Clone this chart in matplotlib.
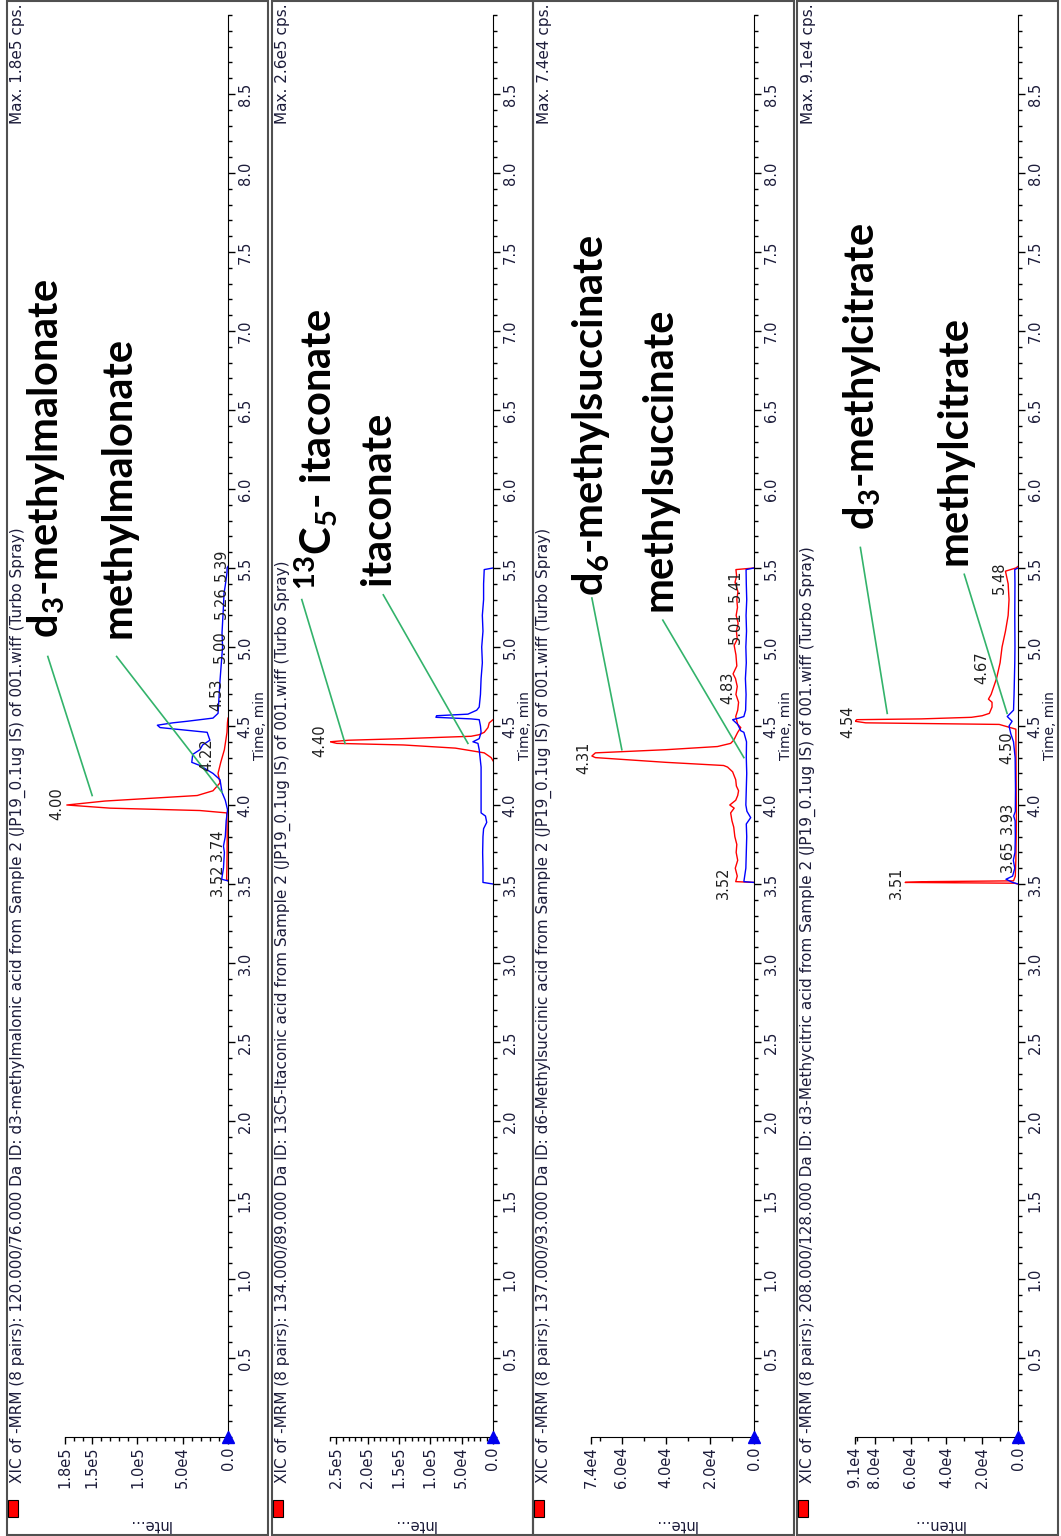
import numpy as np
import matplotlib.pyplot as plt
from matplotlib.patches import Rectangle
from matplotlib.ticker import MultipleLocator

# ------------------------------------------------------------------
# chromatogram traces (intensity in cps, time in min)
p1_red_t = [3.52, 3.53, 3.60, 3.70, 3.80, 3.90, 3.95, 3.965, 3.98, 4.00, 4.025, 4.06, 4.09, 4.14,
            4.20, 4.27, 4.35, 4.46, 4.52, 4.55]
p1_red_i = [0, 1500, 1200, 1000, 900, 1100, 1500, 3.1e4, 1.3e5, 1.78e5, 1.36e5, 3.4e4, 1.66e4, 8800,
            1.1e4, 8000, 4000, 1100, 600, 0]
p1_blue_t = [3.52, 3.53, 3.60, 3.70, 3.74, 3.80, 3.90, 3.97, 4.03, 4.08, 4.16, 4.20, 4.25, 4.27,
             4.32, 4.35, 4.38, 4.41, 4.46, 4.49, 4.505, 4.52, 4.53, 4.55, 4.58, 4.79, 5.00, 5.09,
             5.26, 5.34, 5.39, 5.47, 5.50, 5.51]
p1_blue_i = [0, 7000, 5000, 4000, 5000, 3000, 2000, 500, 3000, 6600, 8800, 1.66e4, 3.1e4, 4.0e4,
             3.9e4, 3.1e4, 2.8e4, 2.0e4, 2.3e4, 7.5e4, 7.8e4, 6.1e4, 4.5e4, 1.66e4, 1.1e4, 8800,
             6000, 6600, 5000, 4400, 3000, 1100, 1000, 0]

p2_red_t = [4.28, 4.30, 4.33, 4.36, 4.38, 4.39, 4.40, 4.41, 4.42, 4.435, 4.445, 4.46, 4.49, 4.52, 4.54]
p2_red_i = [0, 3000, 1.4e4, 6.0e4, 1.43e5, 2.49e5, 2.6e5, 2.3e5, 1.43e5, 3.5e4, 2.2e4, 1.4e4, 8000,
            6000, 0]
p2_blue_t = [3.50, 3.51, 3.60, 3.70, 3.80, 3.85, 3.89, 3.93, 3.95, 4.05, 4.15, 4.24, 4.35, 4.39,
             4.40, 4.42, 4.46, 4.50, 4.54, 4.545, 4.555, 4.565, 4.575, 4.60, 4.62, 4.70, 4.80,
             4.90, 5.00, 5.10, 5.20, 5.30, 5.40, 5.49, 5.50]
p2_blue_i = [0, 1.6e4, 1.6e4, 1.65e4, 1.6e4, 1.5e4, 1.0e4, 1.2e4, 1.9e4, 1.9e4, 1.9e4, 1.9e4,
             2.2e4, 2.4e4, 3.2e4, 2.2e4, 1.9e4, 2.0e4, 2.2e4, 3.5e4, 9.1e4, 9.0e4, 4.0e4, 2.6e4,
             2.2e4, 2.0e4, 1.9e4, 1.7e4, 1.8e4, 1.6e4, 1.7e4, 1.5e4, 1.5e4, 1.4e4, 0]

p3_red_t = [3.51, 3.515, 3.55, 3.60, 3.65, 3.70, 3.75, 3.80, 3.86, 3.90, 3.95, 3.98, 4.00, 4.03,
            4.06, 4.09, 4.12, 4.16, 4.21, 4.24, 4.25, 4.27, 4.30, 4.31, 4.33, 4.35, 4.37, 4.39,
            4.41, 4.46, 4.49, 4.51, 4.56, 4.60, 4.65, 4.70, 4.75, 4.80, 4.83, 4.88, 4.95, 5.01,
            5.05, 5.10, 5.15, 5.20, 5.25, 5.30, 5.35, 5.41, 5.45, 5.49, 5.50]
p3_red_i = [0, 8300, 7600, 8500, 7400, 8100, 7800, 8700, 9200, 1.0e4, 1.06e4, 9000, 1.1e4, 8300,
            7400, 7000, 8000, 8300, 9700, 1.2e4, 1.38e4, 4.0e4, 7.2e4, 7.36e4, 7.2e4, 4.0e4,
            1.66e4, 1.06e4, 9200, 7400, 6000, 7400, 8300, 7400, 7000, 8200, 7600, 8400, 9500,
            7800, 8200, 9000, 7600, 8000, 7200, 8100, 7500, 7800, 7300, 8600, 7900, 8200, 0]
p3_blue_t = [3.51, 3.515, 3.60, 3.70, 3.80, 3.88, 3.92, 3.96, 4.00, 4.10, 4.20, 4.30, 4.40, 4.46,
             4.47, 4.51, 4.54, 4.55, 4.56, 4.60, 4.70, 4.80, 4.90, 5.00, 5.10, 5.20, 5.30, 5.40,
             5.49, 5.50]
p3_blue_i = [0, 4600, 3700, 3500, 3300, 3500, 1500, 3200, 3700, 3500, 3300, 3500, 3400, 4600,
             6000, 7400, 9700, 6900, 4600, 3800, 3600, 3900, 3500, 3700, 3400, 3600, 3300, 3500,
             3600, 0]

p4_red_t = [3.50, 3.505, 3.51, 3.515, 3.52, 3.55, 3.65, 3.80, 3.93, 4.10, 4.30, 4.48, 4.51, 4.52,
            4.53, 4.54, 4.545, 4.555, 4.565, 4.58, 4.62, 4.65, 4.67, 4.70, 4.80, 4.90, 5.00,
            5.10, 5.20, 5.30, 5.40, 5.48, 5.50, 5.51]
p4_red_i = [0, 2000, 6.3e4, 5.0e4, 2500, 1500, 1200, 1000, 900, 1000, 1100, 1200, 1.05e4, 8.5e4,
            9.1e4, 9.0e4, 5.4e4, 2.6e4, 2.0e4, 1.6e4, 1.45e4, 1.45e4, 1.65e4, 1.5e4, 1.2e4,
            1.0e4, 8900, 7000, 5500, 5000, 5500, 7000, 1200, 0]
p4_blue_t = [3.50, 3.51, 3.53, 3.55, 3.60, 3.65, 3.70, 3.80, 3.90, 3.93, 3.96, 4.10, 4.30, 4.40,
             4.45, 4.50, 4.53, 4.56, 4.60, 4.70, 4.80, 4.90, 5.00, 5.20, 5.40, 5.49, 5.50]
p4_blue_i = [0, 3000, 6700, 3000, 1800, 2600, 1700, 1500, 1600, 2400, 1500, 1400, 1600, 2500,
             4000, 5000, 3300, 6000, 2500, 2200, 2000, 1800, 1700, 1800, 1700, 1800, 0]

# panel texts and axis settings
titles = [
    "XIC of -MRM (8 pairs): 120.000/76.000 Da ID: d3-methylmalonic acid from Sample 2 (JP19_0.1ug IS) of 001.wiff (Turbo Spray)",
    "XIC of -MRM (8 pairs): 134.000/89.000 Da ID: 13C5-Itaconic acid from Sample 2 (JP19_0.1ug IS) of 001.wiff (Turbo Spray)",
    "XIC of -MRM (8 pairs): 137.000/93.000 Da ID: d6-Methylsuccinic acid from Sample 2 (JP19_0.1ug IS) of 001.wiff (Turbo Spray)",
    "XIC of -MRM (8 pairs): 208.000/128.000 Da ID: d3-Methycitric acid from Sample 2 (JP19_0.1ug IS) of 001.wiff (Turbo Spray)",
]
max_labels = ["Max. 1.8e5 cps.", "Max. 2.6e5 cps.", "Max. 7.4e4 cps.", "Max. 9.1e4 cps."]
int_labels = ["Inte...", "Inte...", "Inte...", "Inten..."]
int_max = [1.8e5, 2.6e5, 7.4e4, 9.1e4]
int_ticks = [[0, 5e4, 1e5, 1.5e5, 1.8e5],
             [0, 5e4, 1e5, 1.5e5, 2e5, 2.5e5],
             [0, 2e4, 4e4, 6e4, 7.4e4],
             [0, 2e4, 4e4, 6e4, 8e4, 9.1e4]]
time_ticks = [0.5, 1.0, 1.5, 2.0, 2.5, 3.0, 3.5, 4.0, 4.5, 5.0, 5.5, 6.0, 6.5, 7.0, 7.5, 8.0, 8.5]

compounds = [(r"d$_3$-methylmalonate", "methylmalonate"),
             (r"$^{13}$C$_5$- itaconate", "itaconate"),
             (r"d$_6$-methylsuccinate", "methylsuccinate"),
             (r"d$_3$-methylcitrate", "methylcitrate")]

peak_labels = [["4.00", "3.52", "3.74", "4.22", "4.53", "5.00", "5.26", "5.39"],
               ["4.40"],
               ["4.31", "3.52", "4.83", "5.01", "5.41"],
               ["4.54", "3.51", "3.65", "3.93", "4.50", "4.67", "5.48"]]
# ------------------------------------------------------------------

# where the labels sit (intensity, time)
peak_pos = [[(1.89e5, 4.01), (1.2e4, 3.53), (1.2e4, 3.75), (2.3e4, 4.32), (1.2e4, 4.70),
             (8.8e3, 5.00), (7.7e3, 5.28), (7.7e3, 5.52)],
            [(2.76e5, 4.41)],
            [(7.73e4, 4.30), (1.38e4, 3.51), (1.2e4, 4.74), (8.3e3, 5.12), (8.3e3, 5.39)],
            [(9.5e4, 4.53), (6.8e4, 3.51), (6.1e3, 3.68), (6.1e3, 3.92), (6.1e3, 4.36),
             (2.0e4, 4.87), (1.05e4, 5.44)]]
name_pos = [[(2.01e5, 5.06), (1.21e5, 5.06)],
            [(2.82e5, 5.36), (1.83e5, 5.39)],
            [(7.4e4, 5.32), (4.28e4, 5.23)],
            [(8.7e4, 5.74), (3.55e4, 5.52)]]
pointer_pos = [[((1.99e5, 4.94), (1.50e5, 4.06)), ((1.23e5, 4.94), (6.6e3, 4.08))],
               [((3.05e5, 5.30), (2.36e5, 4.39)), ((1.75e5, 5.33), (4.0e4, 4.39))],
               [((7.36e4, 5.31), (6.0e4, 4.35)), ((4.14e4, 5.17), (4.6e3, 4.30))],
               [((8.8e4, 5.63), (7.3e4, 4.58)), ((3.0e4, 5.46), (6.1e3, 4.58))]]


def sci(v):
    if v == 0:
        return "0.0"
    e = int(np.floor(np.log10(v)))
    return f"{v / 10 ** e:.1f}e{e}"


def main():
    plt.rcParams['font.family'] = ['DejaVu Sans']
    plt.rcParams['mathtext.fontset'] = 'custom'
    plt.rcParams['mathtext.rm'] = 'Lato:bold'
    plt.rcParams['mathtext.it'] = 'Lato:bold'
    plt.rcParams['mathtext.bf'] = 'Lato:bold'
    plt.rcParams['mathtext.default'] = 'rm'

    W, H = 1061, 1536
    fig = plt.figure(figsize=(W / 100, H / 100), dpi=100)
    txt_col = '#1c1c3a'
    green = '#33b36b'
    fs = 10.5
    fs_title = 11

    traces = [(p1_red_i, p1_red_t, p1_blue_i, p1_blue_t),
              (p2_red_i, p2_red_t, p2_blue_i, p2_blue_t),
              (p3_red_i, p3_red_t, p3_blue_i, p3_blue_t),
              (p4_red_i, p4_red_t, p4_blue_i, p4_blue_t)]
    panel_left = [7, 272, 533, 797]

    for k in range(4):
        L = panel_left[k]
        # panel frame
        fig.add_artist(Rectangle((L / W, 1 / H), 261 / W, 1534 / H, transform=fig.transFigure,
                                 fill=False, ec='#505050', lw=1.5))
        fig.add_artist(Rectangle(((L + 1) / W, 19 / H), 10 / W, 17 / H, transform=fig.transFigure,
                                 fc='#ff0000', ec='black', lw=0.8))
        fig.text((L + 11) / W, (H - 1483) / H, titles[k], rotation=90, ha='center', va='bottom',
                 fontsize=fs_title, color=txt_col)
        fig.text((L + 11) / W, (H - 3) / H, max_labels[k], rotation=90, ha='center', va='top',
                 fontsize=fs_title, color=txt_col)
        fig.text((L + 142) / W, (H - 1525) / H, int_labels[k], rotation=180, ha='center',
                 va='center', fontsize=fs, color=txt_col)

        ax = fig.add_axes([(L + 58) / W, 99 / H, 163 / W, 1422 / H])
        ax.set_facecolor('none')
        ax.set_xlim(int_max[k], 0)
        ax.set_ylim(0, 9.0)
        ax.spines['top'].set_visible(False)
        ax.spines['left'].set_visible(False)
        ax.yaxis.tick_right()
        ax.yaxis.set_label_position('right')

        ax.set_yticks(time_ticks)
        ax.set_yticklabels([f"{v:.1f}" for v in time_ticks])
        ax.yaxis.set_minor_locator(MultipleLocator(0.1))
        ax.set_xticks(int_ticks[k])
        ax.set_xticklabels([sci(v) for v in int_ticks[k]])
        ax.xaxis.set_minor_locator(MultipleLocator(1e4))
        ax.tick_params(which='major', direction='out', length=5, width=1, labelsize=fs,
                       labelcolor=txt_col, pad=2, labelrotation=90)
        ax.tick_params(which='minor', direction='out', length=3, width=1)
        for lab in ax.get_yticklabels():
            lab.set_va('center')
        ax.set_ylabel('Time, min', fontsize=10, color=txt_col, labelpad=0)

        ri, rt, bi, bt = traces[k]
        ax.plot(ri, rt, color='#ff0000', lw=1.0)
        ax.plot(bi, bt, color='#0000ff', lw=1.0)
        ax.plot([0], [0], marker='^', color='#0000ee', ms=9, clip_on=False, zorder=5)

        for lab, (xi, yt) in zip(peak_labels[k], peak_pos[k]):
            ax.text(xi, yt, lab, rotation=90, ha='center', va='center', fontsize=fs,
                    color='#202020')

        for name, (xi, yt) in zip(compounds[k], name_pos[k]):
            ax.text(xi, yt, name, rotation=90, ha='center', va='bottom', fontsize=30,
                    family='Lato', fontweight='bold', color='black')
        for (p0, p1) in pointer_pos[k]:
            ax.plot([p0[0], p1[0]], [p0[1], p1[1]], color=green, lw=1.2, clip_on=False)

    fig.savefig('out.png', dpi=100)


if __name__ == "__main__":
    main()
